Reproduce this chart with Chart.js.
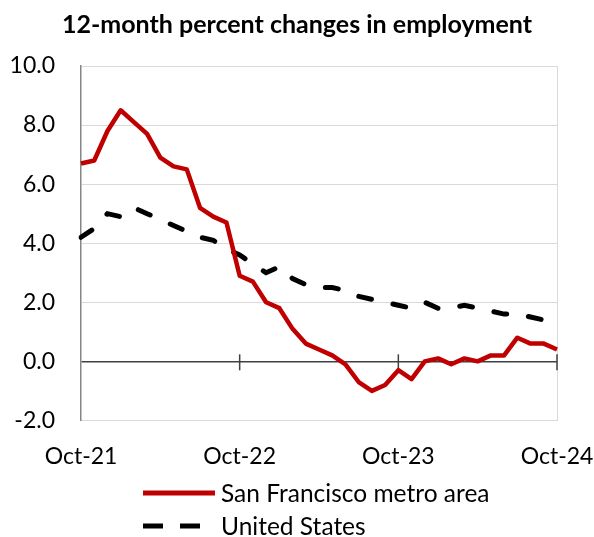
<!DOCTYPE html>
<html lang="en">
<head>
<meta charset="UTF-8">
<title>12-month percent changes in employment</title>
<script src="https://cdn.jsdelivr.net/npm/chart.js"></script>
<style>
  html, body { margin: 0; padding: 0; background: #fff; }
  .chart-container { position: relative; width: 594px; height: 537px; }
</style>
</head>
<body>
<div class="chart-container"><canvas id="empChart"></canvas></div>
<script>
// monthly, Oct-21 .. Oct-24
var months = [
  'Oct-21', 'Nov-21', 'Dec-21', 'Jan-22', 'Feb-22', 'Mar-22', 'Apr-22', 'May-22', 'Jun-22', 'Jul-22', 'Aug-22', 'Sep-22',
  'Oct-22', 'Nov-22', 'Dec-22', 'Jan-23', 'Feb-23', 'Mar-23', 'Apr-23', 'May-23', 'Jun-23', 'Jul-23', 'Aug-23', 'Sep-23',
  'Oct-23', 'Nov-23', 'Dec-23', 'Jan-24', 'Feb-24', 'Mar-24', 'Apr-24', 'May-24', 'Jun-24', 'Jul-24', 'Aug-24', 'Sep-24',
  'Oct-24'
];
var sfMetro = [
  6.7, 6.8, 7.8, 8.5, 8.1, 7.7, 6.9, 6.6, 6.5, 5.2, 4.9, 4.7,
  2.9, 2.7, 2.0, 1.8, 1.1, 0.6, 0.4, 0.2, -0.1, -0.7, -1.0, -0.8,
  -0.3, -0.6, 0.0, 0.1, -0.1, 0.1, 0.0, 0.2, 0.2, 0.8, 0.6, 0.6,
  0.4
];
var unitedStates = [
  4.2, 4.5, 5.0, 4.9, 5.2, 5.0, 4.8, 4.6, 4.4, 4.2, 4.1, 3.8,
  3.6, 3.3, 3.0, 3.2, 2.8, 2.6, 2.5, 2.5, 2.4, 2.2, 2.1, 2.0,
  1.9, 1.8, 2.0, 1.8, 1.8, 1.9, 1.8, 1.7, 1.6, 1.6, 1.5, 1.4,
  1.3
];
var yMin = -2, yMax = 10, yStep = 2;
var labelEvery = 12;

var legendItems = [
  { text: 'San Francisco metro area', color: '#c00000', dash: [], len: 72 },
  { text: 'United States', color: '#000000', dash: [20, 17], len: 57 }
];

// small tick marks crossing the zero line at each year
var zeroTicks = {
  id: 'zeroTicks',
  beforeDatasetsDraw: function(chart) {
    var ctx = chart.ctx, x = chart.scales.x, y = chart.scales.y;
    var y0 = y.getPixelForValue(0);
    ctx.save();
    ctx.strokeStyle = '#404040';
    ctx.lineWidth = 1.5;
    for (var i = labelEvery; i < months.length; i += labelEvery) {
      var px = x.getPixelForValue(i);
      ctx.beginPath();
      ctx.moveTo(px, y0 - 7);
      ctx.lineTo(px, y0 + 9);
      ctx.stroke();
    }
    ctx.restore();
  }
};

// legend drawn as two stacked rows under the axis
var stackedLegend = {
  id: 'stackedLegend',
  afterDraw: function(chart) {
    var ctx = chart.ctx;
    var x0 = 143, top = 493, rowGap = 33;
    ctx.save();
    ctx.font = '24.5px Lato';
    ctx.textBaseline = 'middle';
    ctx.fillStyle = '#000';
    legendItems.forEach(function(item, i) {
      var yy = top + i * rowGap;
      ctx.strokeStyle = item.color;
      ctx.lineWidth = 5;
      ctx.setLineDash(item.dash);
      ctx.beginPath();
      ctx.moveTo(x0, yy);
      ctx.lineTo(x0 + item.len, yy);
      ctx.stroke();
      ctx.fillText(item.text, 221, yy + 1.5);
    });
    ctx.restore();
  }
};

var ctx = document.getElementById('empChart').getContext('2d');
var myChart = new Chart(ctx, {
  type: 'line',
  data: {
    labels: months,
    datasets: [{
      label: 'San Francisco metro area',
      data: sfMetro,
      borderColor: '#c00000',
      backgroundColor: '#c00000',
      borderWidth: 4.5,
      borderJoinStyle: 'round',
      pointRadius: 0,
      tension: 0,
      fill: false
    }, {
      label: 'United States',
      data: unitedStates,
      borderColor: '#000000',
      backgroundColor: '#000000',
      borderWidth: 5,
      borderDash: [13, 22],
      borderCapStyle: 'round',
      pointRadius: 0,
      tension: 0,
      fill: false
    }]
  },
  options: {
    responsive: true,
    maintainAspectRatio: false,
    animation: false,
    layout: { padding: { left: 0, right: 0, top: 0, bottom: 45 } },
    plugins: {
      legend: { display: false },
      tooltip: { enabled: false },
      title: {
        display: true,
        text: '12-month percent changes in employment',
        color: '#000',
        font: { family: 'Lato', size: 25, weight: 'bold', lineHeight: 1.2 },
        padding: { top: 10, bottom: 26 }
      }
    },
    scales: {
      x: {
        grid: {
          drawTicks: false,
          color: function(c) { return c.index === months.length - 1 ? '#d9d9d9' : 'rgba(0,0,0,0)'; }
        },
        border: { color: '#d9d9d9' },
        afterFit: function(scale) { scale.paddingRight = 37; },
        ticks: {
          autoSkip: false,
          maxRotation: 0,
          padding: 22,
          color: '#000',
          font: { family: 'Lato', size: 23, lineHeight: 1.2 },
          callback: function(v, i) { return i % labelEvery === 0 ? months[i] : ''; }
        }
      },
      y: {
        min: yMin,
        max: yMax,
        afterFit: function(scale) { scale.width = 81; },
        grid: {
          drawTicks: false,
          color: function(c) { return c.tick.value === 0 ? '#404040' : '#d9d9d9'; },
          lineWidth: function(c) { return c.tick.value === 0 ? 1.5 : 1; }
        },
        border: { color: '#868686', width: 1.5 },
        ticks: {
          stepSize: yStep,
          padding: 26,
          color: '#000',
          font: { family: 'Lato', size: 23 },
          callback: function(v) { return v.toFixed(1); }
        }
      }
    }
  },
  plugins: [zeroTicks, stackedLegend]
});
</script>
</body>
</html>
